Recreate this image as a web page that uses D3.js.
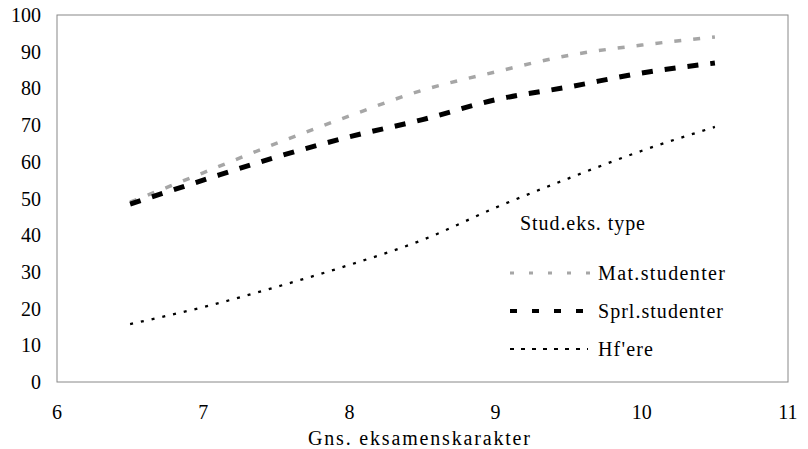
<!DOCTYPE html>
<html>
<head>
<meta charset="utf-8">
<script src="https://cdn.jsdelivr.net/npm/d3@7"></script>
<style>
  body { margin: 0; background: #fff; }
</style>
</head>
<body>
<svg id="chart" width="808" height="449"></svg>
<script>
const grades = [6.5, 7.0, 7.5, 8.0, 8.5, 9.0, 9.5, 10.0, 10.5];
const matValues = [49, 57, 65, 72.5, 79.5, 84.5, 89, 91.8, 94];
const sprValues = [48.5, 55, 61.3, 66.8, 71.5, 76.9, 80.4, 84.2, 86.9];
const hfValues = [15.8, 20.4, 25.9, 31.9, 38.7, 47.5, 55.5, 63, 69.5];
const xTicks = [6, 7, 8, 9, 10, 11];
const yTicks = [0, 10, 20, 30, 40, 50, 60, 70, 80, 90, 100];
const legendTitle = "Stud.eks. type";
const seriesNames = ["Mat.studenter", "Sprl.studenter", "Hf'ere"];

const svg = d3.select("#chart");
const fontFam = "'Liberation Serif'";
const margin = { left: 57, right: 20, top: 15, bottom: 67 };
const width = 808 - margin.left - margin.right;
const height = 449 - margin.top - margin.bottom;

const x = d3.scaleLinear().domain([6, 11]).range([margin.left, margin.left + width]);
const y = d3.scaleLinear().domain([0, 100]).range([margin.top + height, margin.top]);

// frame
svg.append("rect")
  .attr("x", x(6)).attr("y", y(100))
  .attr("width", x(11) - x(6)).attr("height", y(0) - y(100))
  .attr("fill", "none").attr("stroke", "#888").attr("stroke-width", 1);

// y labels
svg.append("g").selectAll("text").data(yTicks).enter().append("text")
  .style("font-family", fontFam).style("font-size", "20px")
  .attr("x", 41).attr("y", d => y(d) + 7)
  .attr("text-anchor", "end")
  .text(d => d);

// x labels
svg.append("g").selectAll("text").data(xTicks).enter().append("text")
  .style("font-family", fontFam).style("font-size", "20px")
  .attr("x", d => x(d)).attr("y", 419)
  .attr("text-anchor", "middle")
  .text(d => d);

svg.append("text")
  .style("font-family", fontFam).style("font-size", "20px")
  .attr("x", 308).attr("y", 445).attr("textLength", 222)
  .text("Gns. eksamenskarakter");

const styles = [
  { stroke: "#a6a6a6", width: 3.5, dash: "7 12" },
  { stroke: "#000", width: 5, dash: "11 12" },
  { stroke: "#000", width: 2.3, dash: "3 8" }
];
const series = [matValues, sprValues, hfValues];

const line = d3.line()
  .x((d, i) => x(grades[i]))
  .y(d => y(d))
  .curve(d3.curveMonotoneX);

series.forEach((vals, k) => {
  svg.append("path")
    .datum(vals)
    .attr("d", line)
    .attr("fill", "none")
    .attr("stroke", styles[k].stroke)
    .attr("stroke-width", styles[k].width)
    .attr("stroke-dasharray", styles[k].dash);
});

// legend
svg.append("text")
  .style("font-family", fontFam).style("font-size", "20px")
  .attr("x", 520).attr("y", 230).attr("textLength", 125)
  .text(legendTitle);

const legendRows = [
  { y: 273, x2: 590, len: 127, dash: "4 15" },
  { y: 311, x2: 590, len: 125, dash: "7 15" },
  { y: 349, x2: 588, len: 55, dash: "4 7" }
];
legendRows.forEach((r, k) => {
  svg.append("line")
    .attr("x1", 510).attr("x2", r.x2).attr("y1", r.y).attr("y2", r.y)
    .attr("stroke", styles[k].stroke)
    .attr("stroke-width", k === 1 ? 4 : k === 0 ? 3 : 2)
    .attr("stroke-dasharray", r.dash);
  svg.append("text")
    .style("font-family", fontFam).style("font-size", "20px")
    .attr("x", 598).attr("y", r.y + 7).attr("textLength", r.len)
    .text(seriesNames[k]);
});
</script>
</body>
</html>
